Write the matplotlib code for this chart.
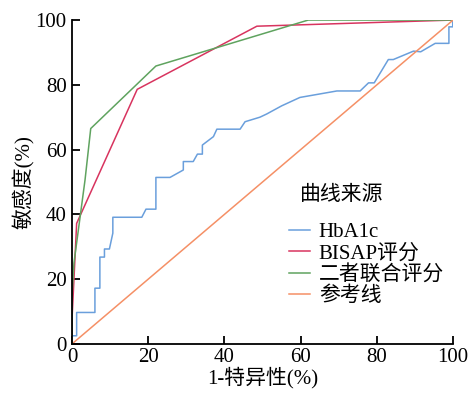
import matplotlib
matplotlib.use('Agg')
import matplotlib.pyplot as plt

plt.rcParams['font.family'] = ['Liberation Serif', 'Noto Sans CJK SC']

# ROC curves (x = 1-specificity %, y = sensitivity %)
hba1c_x = [0, 0, 1.2, 1.2, 6.0, 6.0, 7.3, 7.3, 8.5, 8.5, 9.8, 10.7, 10.7, 18.3, 19.4, 22.0, 22.0,
           25.7, 29.2, 29.2, 31.8, 32.9, 34.2, 34.2, 37.1, 38.0, 44.1, 45.4, 49.3, 51.1, 55.0,
           59.8, 69.5, 75.6, 77.8, 79.3, 83.0, 84.3, 89.6, 91.5, 95.3, 98.9, 98.9, 99.9, 99.9]
hba1c_y = [0, 2.5, 2.5, 9.7, 9.7, 17.2, 17.2, 26.8, 26.8, 29.3, 29.3, 34.2, 39.1, 39.1, 41.6, 41.6, 51.4,
           51.4, 53.7, 56.3, 56.3, 58.6, 58.6, 61.4, 64.0, 66.3, 66.3, 68.6, 70.0, 71.0, 73.5,
           76.1, 78.1, 78.1, 80.6, 80.6, 87.8, 87.8, 90.4, 90.2, 92.8, 92.8, 97.9, 97.9, 100]
bisap_x = [0, 0, 0.5, 1.2, 17.1, 48.5, 100]
bisap_y = [0, 8, 20, 37.2, 78.6, 98.1, 100]
combo_x = [0, 0, 0.5, 3.4, 4.9, 22.0, 62.0, 100]
combo_y = [0, 15, 25, 50.6, 66.5, 85.8, 100, 100]
ref_x = [0, 100]
ref_y = [0, 100]

labels = ['HbA1c', 'BISAP评分', '二者联合评分', '参考线']
colors = ['#6a9fdc', '#d8345f', '#5fa35f', '#f59066']
legend_title = '曲线来源'

fig = plt.figure(figsize=(4.71, 3.93), dpi=100)
ax = fig.add_axes([0.153, 0.125, 0.809, 0.824])

ax.plot(hba1c_x, hba1c_y, color=colors[0], lw=1.1, label=labels[0])
ax.plot(bisap_x, bisap_y, color=colors[1], lw=1.1, label=labels[1])
ax.plot(combo_x, combo_y, color=colors[2], lw=1.1, label=labels[2])
ax.plot(ref_x, ref_y, color=colors[3], lw=1.1, label=labels[3])

ax.set_xlim(0, 100)
ax.set_ylim(0, 100)
ax.set_xticks([0, 20, 40, 60, 80, 100])
ax.set_yticks([0, 20, 40, 60, 80, 100])
ax.spines['top'].set_visible(False)
ax.spines['right'].set_visible(False)
ax.spines['left'].set_linewidth(1.3)
ax.spines['bottom'].set_linewidth(1.3)
ax.tick_params(direction='in', length=6, width=1.3, labelsize=15)
ax.tick_params(axis='x', pad=3)
ax.tick_params(axis='y', pad=4)

ax.set_xlabel('1-特异性(%)', fontsize=15, labelpad=0)
ax.set_ylabel('敏感度(%)', fontsize=15, labelpad=0)

# legend title as separate text so it can sit indented like the original
fig.text(300 / 471, 1 - 195 / 393, legend_title, fontsize=15, ha='left', va='center')
ax.legend(loc='upper left', bbox_to_anchor=(274 / 471, 1 - 208 / 393),
          bbox_transform=fig.transFigure, frameon=False, fontsize=15,
          handlelength=1.05, handletextpad=0.4,
          labelspacing=0.08, borderpad=0.2)

fig.savefig('out.png', dpi=100)
